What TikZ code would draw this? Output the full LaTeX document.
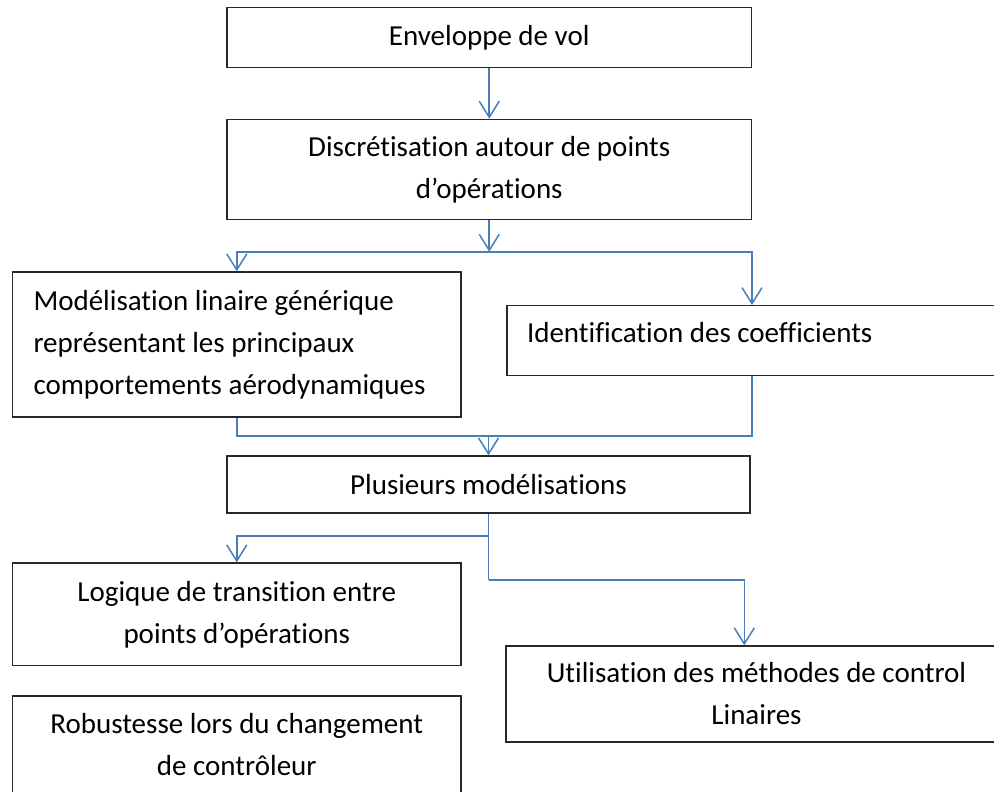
\documentclass[tikz,border=0pt]{standalone}
\usepackage{fontspec}
\setmainfont[Ligatures=NoCommon]{Carlito}
\usetikzlibrary{arrows.meta}
\definecolor{arrowblue}{RGB}{74,126,187}
\definecolor{boxline}{RGB}{40,40,40}
\begin{document}
\begin{tikzpicture}[x=1pt,y=-1pt,
  box/.style={draw=boxline, line width=1.4pt, fill=white, inner sep=0pt,
    font=\fontsize{29}{42}\selectfont, align=center},
  lbox/.style={box, align=flush left, inner xsep=21pt},
  conn/.style={draw=arrowblue, line width=1.6pt},
  arr/.style={conn, -{Straight Barb[length=16pt,width=20pt,line width=1.5pt]}}
]
\fill[white] (0,0) rectangle (994,792);
\useasboundingbox (0,0) rectangle (994,792);

\node[box, minimum width=524.5pt, minimum height=60.4pt] (b1) at (489.25,37.5) {Enveloppe de vol};
\node[box, minimum width=524.5pt, minimum height=100pt] (b2) at (489.25,169.3) {Discrétisation autour de points\\d’opérations};
\node[lbox, text width=406.5pt, minimum height=145pt] (b3) at (236.75,344.5) {Modélisation linaire générique\\représentant les principaux\\comportements aérodynamiques};
\node[lbox, inner xsep=20pt, text width=450pt, minimum height=70pt, text depth=17pt] (b4) at (752,340.7) {Identification des coefficients};
\node[box, minimum width=523pt, minimum height=57pt] (b5) at (488.5,484.5) {Plusieurs modélisations};
\node[box, minimum width=448.5pt, minimum height=102.7pt] (b6) at (236.75,614.35) {Logique de transition entre\\points d’opérations};
\node[box, minimum width=501pt, minimum height=96pt] (b7) at (756.5,694) {Utilisation des méthodes de control\\Linaires};
\node[box, minimum width=448.5pt, minimum height=98pt] (b8) at (236.75,745) {Robustesse lors du changement\\de contrôleur};

\coordinate (j1) at (489.25,251.7);
\coordinate (j2) at (488.5,435.7);
\coordinate (j3) at (488.5,535.7);
\coordinate (j4) at (488.5,579.7);

% top chain
\draw[arr] (b1.south) -- (b2.north);
\draw[arr] (b2.south) -- (j1);
\draw[arr] (j1) -| (b3.north);
\draw[arr] (j1) -| (b4.north);

% merge into b5
\draw[conn] (b3.south) |- (b4.south |- j2) -- (b4.south);
\draw[arr] (j2) -- (b5.north);

% split after b5
\draw[conn] (b5.south) -- (j4);
\draw[arr] (j3) -| (b6.north);
\draw[arr] (j4) -| ([xshift=239pt]b7.north west);
\end{tikzpicture}
\end{document}
